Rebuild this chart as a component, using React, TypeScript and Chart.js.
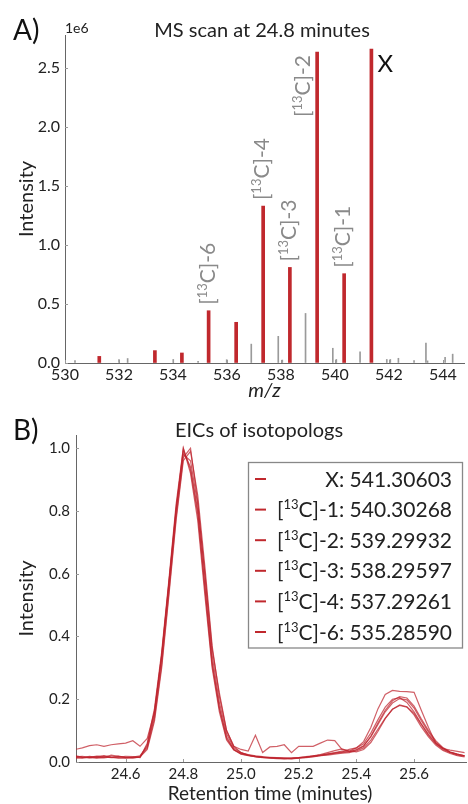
import React, { useEffect, useRef } from "react";
import { Chart, registerables } from "chart.js";

Chart.register(...registerables);

const FONT = "Lato, 'Open Sans', 'DejaVu Sans', sans-serif";

// ---------------- Panel A: MS scan at 24.8 minutes (intensity in units of 1e6) ----------------
const isoMz = [531.27, 533.33, 534.33, 535.32, 536.34, 537.34, 538.33, 539.34, 540.34, 541.35];
const isoIntensity = [0.056, 0.105, 0.085, 0.443, 0.345, 1.33, 0.81, 2.636, 0.757, 2.661];

const otherMz = [530.37, 532.0, 532.32, 534.01, 534.93, 535.99, 536.9, 537.9, 538.05, 538.91, 539.92, 540.05, 540.93, 541.92, 542.05, 542.35, 542.93, 543.37, 543.43, 544.08, 544.36];
const otherIntensity = [0.02, 0.028, 0.038, 0.03, 0.015, 0.028, 0.16, 0.226, 0.025, 0.42, 0.125, 0.03, 0.095, 0.03, 0.03, 0.04, 0.02, 0.168, 0.018, 0.048, 0.075];

const peakLabels = ["[13C]-6", "[13C]-4", "[13C]-3", "[13C]-2", "[13C]-1", "X"];
const peakLabelMz = [535.32, 537.34, 538.33, 539.34, 540.34, 541.35];

const mzMin = 530;
const mzMax = 544.78;
const intensityMax = 2.78;

// ---------------- Panel B: EICs of isotopologs ----------------
const rtMinutes = [
  24.425, 24.45, 24.475, 24.5, 24.525, 24.55, 24.575, 24.6, 24.625, 24.65,
  24.675, 24.7, 24.725, 24.75, 24.775, 24.8, 24.825, 24.85, 24.875, 24.9,
  24.925, 24.95, 24.975, 25.0, 25.025, 25.05, 25.075, 25.1, 25.125, 25.15,
  25.175, 25.2, 25.225, 25.25, 25.275, 25.3, 25.325, 25.35, 25.375, 25.4,
  25.425, 25.45, 25.475, 25.5, 25.525, 25.55, 25.575, 25.6, 25.625, 25.65,
  25.675, 25.7, 25.725, 25.75, 25.775,
];

const eicX = [
  0.015, 0.012, 0.016, 0.014, 0.018, 0.015, 0.012, 0.014, 0.016, 0.020,
  0.050, 0.150, 0.330, 0.560, 0.800, 1.000, 0.930, 0.790, 0.550, 0.310,
  0.170, 0.075, 0.040, 0.025, 0.020, 0.018, 0.016, 0.015, 0.014, 0.013,
  0.012, 0.013, 0.015, 0.018, 0.020, 0.022, 0.025, 0.028, 0.030, 0.035,
  0.045, 0.070, 0.105, 0.140, 0.168, 0.180, 0.175, 0.155, 0.120, 0.085,
  0.058, 0.040, 0.030, 0.022, 0.018,
];
const eicC1 = [
  0.018, 0.015, 0.013, 0.017, 0.020, 0.016, 0.014, 0.012, 0.015, 0.018,
  0.045, 0.140, 0.310, 0.540, 0.780, 0.970, 1.000, 0.830, 0.590, 0.340,
  0.190, 0.090, 0.045, 0.030, 0.022, 0.018, 0.015, 0.012, 0.011, 0.010,
  0.010, 0.012, 0.014, 0.016, 0.020, 0.024, 0.028, 0.030, 0.032, 0.040,
  0.052, 0.080, 0.120, 0.160, 0.188, 0.202, 0.198, 0.172, 0.132, 0.095,
  0.064, 0.044, 0.031, 0.024, 0.020,
];
const eicC2 = [
  0.012, 0.014, 0.018, 0.015, 0.013, 0.016, 0.019, 0.015, 0.013, 0.015,
  0.055, 0.160, 0.340, 0.570, 0.810, 0.990, 0.940, 0.800, 0.560, 0.320,
  0.175, 0.080, 0.040, 0.028, 0.024, 0.020, 0.017, 0.014, 0.012, 0.012,
  0.011, 0.013, 0.016, 0.019, 0.022, 0.026, 0.030, 0.035, 0.033, 0.038,
  0.050, 0.082, 0.125, 0.165, 0.195, 0.208, 0.204, 0.178, 0.138, 0.100,
  0.068, 0.046, 0.032, 0.025, 0.020,
];
const eicC3 = [
  0.020, 0.016, 0.014, 0.012, 0.015, 0.022, 0.018, 0.014, 0.013, 0.016,
  0.040, 0.130, 0.300, 0.530, 0.770, 0.960, 0.990, 0.850, 0.620, 0.370,
  0.210, 0.100, 0.050, 0.030, 0.022, 0.016, 0.014, 0.013, 0.012, 0.011,
  0.012, 0.014, 0.017, 0.020, 0.024, 0.030, 0.036, 0.042, 0.035, 0.032,
  0.040, 0.062, 0.098, 0.138, 0.168, 0.182, 0.176, 0.150, 0.112, 0.080,
  0.054, 0.037, 0.027, 0.020, 0.016,
];
const eicC4 = [
  0.016, 0.018, 0.015, 0.019, 0.016, 0.014, 0.016, 0.018, 0.017, 0.014,
  0.060, 0.170, 0.350, 0.580, 0.820, 1.000, 0.920, 0.770, 0.530, 0.300,
  0.160, 0.070, 0.038, 0.026, 0.021, 0.017, 0.015, 0.014, 0.013, 0.012,
  0.013, 0.014, 0.016, 0.019, 0.022, 0.025, 0.028, 0.032, 0.040, 0.045,
  0.058, 0.092, 0.135, 0.175, 0.200, 0.205, 0.190, 0.160, 0.122, 0.088,
  0.060, 0.043, 0.032, 0.025, 0.020,
];
const eicC6 = [
  0.040, 0.045, 0.052, 0.055, 0.050, 0.055, 0.058, 0.060, 0.068, 0.050,
  0.075, 0.160, 0.340, 0.570, 0.800, 0.980, 0.960, 0.820, 0.600, 0.360,
  0.220, 0.100, 0.050, 0.040, 0.035, 0.085, 0.030, 0.048, 0.050, 0.055,
  0.030, 0.050, 0.050, 0.050, 0.060, 0.070, 0.068, 0.040, 0.035, 0.045,
  0.065, 0.110, 0.170, 0.215, 0.228, 0.225, 0.224, 0.222, 0.165, 0.110,
  0.060, 0.043, 0.038, 0.034, 0.030,
];

const eicSeries = [eicX, eicC1, eicC2, eicC3, eicC4, eicC6];
const legendNames = [
  "X: 541.30603",
  "[13C]-1: 540.30268",
  "[13C]-2: 539.29932",
  "[13C]-3: 538.29597",
  "[13C]-4: 537.29261",
  "[13C]-6: 535.28590",
];

const rtMin = 24.428;
const rtMax = 25.78;
const eicMax = 1.042;

// ---------------- helpers ----------------
type Part = { t: string; sup: boolean };

function splitRich(s: string): Part[] {
  const m = s.match(/^\[13C\](.*)$/);
  if (!m) return [{ t: s, sup: false }];
  return [
    { t: "[", sup: false },
    { t: "13", sup: true },
    { t: "C]" + m[1], sup: false },
  ];
}

function fontStr(size: number, style = "") {
  return `${style} ${size}px ${FONT}`.trim();
}

function richWidth(ctx: CanvasRenderingContext2D, s: string, size: number) {
  let w = 0;
  for (const p of splitRich(s)) {
    ctx.font = fontStr(p.sup ? size * 0.62 : size);
    w += ctx.measureText(p.t).width;
  }
  return w;
}

function drawRich(
  ctx: CanvasRenderingContext2D,
  s: string,
  x: number,
  y: number,
  size: number,
  align: "left" | "right" | "center"
) {
  const w = richWidth(ctx, s, size);
  let cx = align === "left" ? x : align === "right" ? x - w : x - w / 2;
  ctx.textAlign = "left";
  ctx.textBaseline = "alphabetic";
  for (const p of splitRich(s)) {
    const fs = p.sup ? size * 0.62 : size;
    ctx.font = fontStr(fs);
    ctx.fillText(p.t, cx, p.sup ? y - size * 0.38 : y);
    cx += ctx.measureText(p.t).width;
  }
}

function drawInwardTicks(chart: any) {
  const ctx = chart.ctx as CanvasRenderingContext2D;
  const xs = chart.scales.x;
  const ys = chart.scales.y;
  const a = chart.chartArea;
  ctx.save();
  ctx.strokeStyle = "#9a9a9a";
  ctx.lineWidth = 1;
  ctx.beginPath();
  for (const t of xs.ticks) {
    const px = Math.round(xs.getPixelForValue(t.value)) + 0.5;
    ctx.moveTo(px, a.bottom);
    ctx.lineTo(px, a.bottom - 3);
  }
  for (const t of ys.ticks) {
    const py = Math.round(ys.getPixelForValue(t.value)) + 0.5;
    ctx.moveTo(a.left, py);
    ctx.lineTo(a.left + 3, py);
  }
  ctx.stroke();
  ctx.restore();
}

function drawRotatedCentered(ctx: CanvasRenderingContext2D, text: string, x: number, y: number, size: number) {
  ctx.save();
  ctx.translate(x, y);
  ctx.rotate(-Math.PI / 2);
  ctx.font = fontStr(size);
  ctx.textAlign = "center";
  ctx.textBaseline = "middle";
  ctx.fillText(text, 0, 0);
  ctx.restore();
}

// ---------------- Panel A plugin ----------------
const panelAPlugin = {
  id: "panelA",
  afterDraw(chart: any) {
    const ctx = chart.ctx as CanvasRenderingContext2D;
    const a = chart.chartArea;
    const xs = chart.scales.x;
    const ys = chart.scales.y;
    drawInwardTicks(chart);
    ctx.save();
    ctx.fillStyle = "#111";
    ctx.font = fontStr(28);
    ctx.textAlign = "left";
    ctx.textBaseline = "alphabetic";
    ctx.fillText("A)", 13, 40);

    ctx.fillStyle = "#222";
    ctx.font = fontStr(20);
    ctx.textAlign = "center";
    ctx.fillText("MS scan at 24.8 minutes", 262, 37);

    ctx.font = fontStr(14);
    ctx.textAlign = "left";
    ctx.fillText("1e6", a.left, 33);

    ctx.fillStyle = "#222";
    drawRotatedCentered(ctx, "Intensity", 27, (a.top + a.bottom) / 2, 20);

    ctx.font = fontStr(20, "italic");
    ctx.textAlign = "center";
    ctx.textBaseline = "alphabetic";
    ctx.fillText("m/z", (a.left + a.right) / 2, 397);

    // peak labels
    const labelSize = 21;
    peakLabels.forEach((lab, i) => {
      const mz = peakLabelMz[i];
      const idx = isoMz.indexOf(mz);
      const inten = isoIntensity[idx];
      const px = xs.getPixelForValue(mz);
      const top = ys.getPixelForValue(inten);
      if (lab === "X") {
        ctx.save();
        ctx.fillStyle = "#111";
        ctx.font = fontStr(24);
        ctx.textAlign = "left";
        ctx.textBaseline = "alphabetic";
        ctx.fillText(lab, px + 6, top + 23);
        ctx.restore();
        return;
      }
      ctx.save();
      ctx.fillStyle = "#8a8a8a";
      const beside = inten > 2;
      const cx = beside ? px - 14.5 : px - 1;
      const y0 = beside ? top + 3 : top - 6;
      ctx.translate(cx, y0);
      ctx.rotate(-Math.PI / 2);
      drawRich(ctx, lab, 0, labelSize * 0.34, labelSize, beside ? "right" : "left");
      ctx.restore();
    });
    ctx.restore();
  },
};

// ---------------- Panel B plugin ----------------
const panelBPlugin = {
  id: "panelB",
  afterDraw(chart: any) {
    const ctx = chart.ctx as CanvasRenderingContext2D;
    const a = chart.chartArea;
    drawInwardTicks(chart);
    ctx.save();
    ctx.fillStyle = "#111";
    ctx.font = fontStr(28);
    ctx.textAlign = "left";
    ctx.textBaseline = "alphabetic";
    ctx.fillText("B)", 13, 40);

    ctx.fillStyle = "#222";
    ctx.font = fontStr(20);
    ctx.textAlign = "center";
    ctx.fillText("EICs of isotopologs", 259, 37);

    drawRotatedCentered(ctx, "Intensity", 27, (a.top + a.bottom) / 2, 20);

    ctx.font = fontStr(19);
    ctx.textAlign = "center";
    ctx.textBaseline = "alphabetic";
    ctx.fillText("Retention time (minutes)", 270, 400);

    // legend box
    const bx = 248.5, by = 62.5, bw = 214, bh = 185.5;
    ctx.fillStyle = "#fff";
    ctx.fillRect(bx, by, bw, bh);
    ctx.strokeStyle = "#888";
    ctx.lineWidth = 1.3;
    ctx.strokeRect(bx, by, bw, bh);
    const size = 21;
    legendNames.forEach((name, i) => {
      const cy = by + 16.5 + i * 30.6;
      ctx.strokeStyle = "#c0282d";
      ctx.lineWidth = 2;
      ctx.beginPath();
      ctx.moveTo(255, cy);
      ctx.lineTo(266, cy);
      ctx.stroke();
      ctx.fillStyle = "#222";
      drawRich(ctx, name, 452, cy + size * 0.36, size, "right");
    });
    ctx.restore();
  },
};

function PanelA() {
  const ref = useRef<HTMLCanvasElement | null>(null);
  useEffect(() => {
    if (!ref.current) return;
    const chart = new Chart(ref.current, {
      type: "bar",
      data: {
        datasets: [
          {
            label: "isotopologs",
            data: isoMz.map((x, i) => ({ x, y: isoIntensity[i] })),
            backgroundColor: "#c0282d",
            borderWidth: 0,
            barThickness: 3,
            grouped: false,
            order: 1,
          } as any,
          {
            label: "other",
            data: otherMz.map((x, i) => ({ x, y: otherIntensity[i] })),
            backgroundColor: "#9a9a9a",
            borderWidth: 0,
            barThickness: 1,
            grouped: false,
            order: 2,
          } as any,
        ],
      },
      options: {
        responsive: false,
        animation: false,
        layout: { padding: { top: 35, right: 4, left: 0, bottom: 0 } },
        plugins: { legend: { display: false }, tooltip: { enabled: false }, title: { display: false } },
        scales: {
          x: {
            type: "linear",
            offset: false,
            min: mzMin,
            max: mzMax,
            grid: { drawOnChartArea: false, drawTicks: false },
            border: { display: true, color: "#666", width: 1 },
            ticks: {
              stepSize: 2,
              includeBounds: false,
              padding: 2,
              color: "#222",
              font: { family: FONT, size: 16 },
              maxRotation: 0,
              callback: (v: any) => String(v),
            },
            afterFit: (s: any) => {
              s.height = 37;
            },
          },
          y: {
            type: "linear",
            min: 0,
            max: intensityMax,
            grid: { drawOnChartArea: false, drawTicks: false },
            border: { display: true, color: "#666", width: 1 },
            ticks: {
              stepSize: 0.5,
              includeBounds: false,
              padding: 5,
              color: "#222",
              font: { family: FONT, size: 16 },
              callback: (v: any) => Number(v).toFixed(1),
            },
            afterFit: (s: any) => {
              s.width = 65;
            },
          },
        },
      } as any,
      plugins: [panelAPlugin],
    });
    return () => chart.destroy();
  }, []);
  return <canvas ref={ref} width={468} height={400} style={{ display: "block" }} />;
}

function PanelB() {
  const ref = useRef<HTMLCanvasElement | null>(null);
  useEffect(() => {
    if (!ref.current) return;
    const chart = new Chart(ref.current, {
      type: "line",
      data: {
        datasets: eicSeries.map((arr, k) => ({
          label: legendNames[k],
          data: arr.map((y, i) => ({ x: rtMinutes[i], y })),
          borderColor: "rgba(190, 35, 45, 0.72)",
          borderWidth: 1.2,
          pointRadius: 0,
          tension: 0,
          fill: false,
        })),
      },
      options: {
        responsive: false,
        animation: false,
        layout: { padding: { top: 35, right: 2, left: 0, bottom: 0 } },
        plugins: { legend: { display: false }, tooltip: { enabled: false }, title: { display: false } },
        scales: {
          x: {
            type: "linear",
            min: rtMin,
            max: rtMax,
            grid: { drawOnChartArea: false, drawTicks: false },
            border: { display: true, color: "#666", width: 1 },
            ticks: {
              stepSize: 0.2,
              includeBounds: false,
              padding: 3,
              color: "#222",
              font: { family: FONT, size: 15 },
              maxRotation: 0,
              callback: (v: any) => Number(v).toFixed(1),
            },
            afterFit: (s: any) => {
              s.height = 42;
            },
          },
          y: {
            type: "linear",
            min: 0,
            max: eicMax,
            grid: { drawOnChartArea: false, drawTicks: false },
            border: { display: true, color: "#666", width: 1 },
            ticks: {
              stepSize: 0.2,
              includeBounds: false,
              padding: 6,
              color: "#222",
              font: { family: FONT, size: 15 },
              callback: (v: any) => Number(v).toFixed(1),
            },
            afterFit: (s: any) => {
              s.width = 76;
            },
          },
        },
      } as any,
      plugins: [panelBPlugin],
    });
    return () => chart.destroy();
  }, []);
  return <canvas ref={ref} width={468} height={404} style={{ display: "block" }} />;
}

export default function App() {
  return (
    <div
      style={{
        position: "absolute",
        left: 0,
        top: 0,
        width: 468,
        height: 804,
        background: "#fff",
        overflow: "hidden",
      }}
    >
      <PanelA />
      <PanelB />
    </div>
  );
}
